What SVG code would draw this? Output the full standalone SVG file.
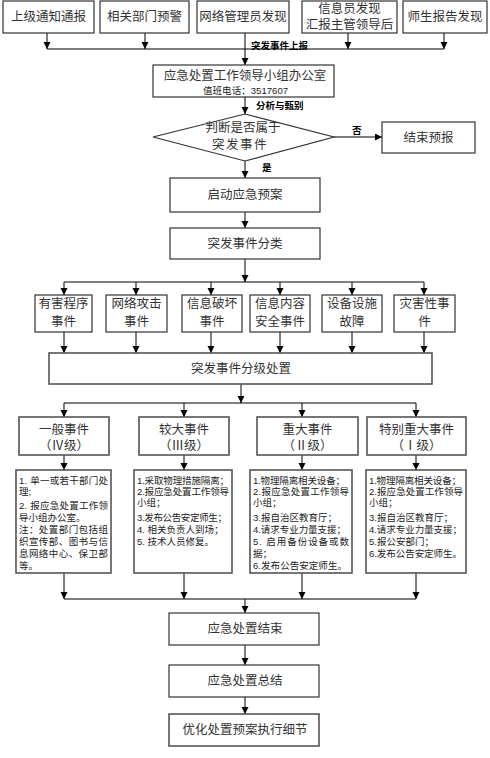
<svg xmlns="http://www.w3.org/2000/svg" width="490" height="758" viewBox="0 0 490 758">
<style>
.b{fill:#fff;stroke:#333;stroke-width:1.2}
.g{fill:#fff;stroke:#555;stroke-width:1.6}
.t{font-family:"Liberation Sans","Noto Sans CJK SC",sans-serif;font-size:12.5px;fill:#333;text-anchor:middle;dominant-baseline:central}
.s{font-family:"Liberation Sans","Noto Sans CJK SC",sans-serif;font-size:9.5px;fill:#222;dominant-baseline:central}
.l{font-family:"Liberation Sans","Noto Sans CJK SC",sans-serif;font-size:9.5px;font-weight:bold;fill:#000;dominant-baseline:central}
.c{fill:none;stroke:#000;stroke-width:1}
</style>
<defs>
<marker id="a" markerUnits="userSpaceOnUse" markerWidth="8" markerHeight="8" refX="7" refY="3.5" orient="auto">
<path d="M0,0 L7,3.5 L0,7 z" fill="#000"/>
</marker>
</defs>
<rect width="490" height="758" fill="#fff"/>

<g id="connectors">
<path class="c" d="M47,33 V49" marker-end="url(#a)"/>
<path class="c" d="M145,33 V49" marker-end="url(#a)"/>
<path class="c" d="M348,33 V49" marker-end="url(#a)"/>
<path class="c" d="M444,33 V49" marker-end="url(#a)"/>
<path class="c" d="M47,49 H444"/>
<path class="c" d="M245,33 V65" marker-end="url(#a)"/>
<text class="l" x="251" y="45">突发事件上报</text>
<path class="c" d="M245,97 V114" marker-end="url(#a)"/>
<text class="l" x="256" y="105">分析与甄别</text>
<path class="c" d="M334,137 H382" marker-end="url(#a)"/>
<text class="l" x="352" y="130">否</text>
<path class="c" d="M245,161 V178" marker-end="url(#a)"/>
<text class="l" x="262" y="167">是</text>
<path class="c" d="M245,212 V228" marker-end="url(#a)"/>
<path class="c" d="M245,259 V282" marker-end="url(#a)"/>
<path class="c" d="M64,282 H424"/>
<path class="c" d="M64,282 V295" marker-end="url(#a)"/>
<path class="c" d="M136,282 V295" marker-end="url(#a)"/>
<path class="c" d="M211,282 V295" marker-end="url(#a)"/>
<path class="c" d="M280,282 V295" marker-end="url(#a)"/>
<path class="c" d="M352,282 V295" marker-end="url(#a)"/>
<path class="c" d="M424,282 V295" marker-end="url(#a)"/>
<path class="c" d="M64,332 V353" marker-end="url(#a)"/>
<path class="c" d="M136,332 V353" marker-end="url(#a)"/>
<path class="c" d="M211,332 V353" marker-end="url(#a)"/>
<path class="c" d="M280,332 V353" marker-end="url(#a)"/>
<path class="c" d="M352,332 V353" marker-end="url(#a)"/>
<path class="c" d="M424,332 V353" marker-end="url(#a)"/>
<path class="c" d="M241,384 V403" marker-end="url(#a)"/>
<path class="c" d="M64,403 H416"/>
<path class="c" d="M64,403 V417" marker-end="url(#a)"/>
<path class="c" d="M184,403 V417" marker-end="url(#a)"/>
<path class="c" d="M302,403 V417" marker-end="url(#a)"/>
<path class="c" d="M416,403 V417" marker-end="url(#a)"/>
<path class="c" d="M64,455 V470" marker-end="url(#a)"/>
<path class="c" d="M184,455 V470" marker-end="url(#a)"/>
<path class="c" d="M302,455 V470" marker-end="url(#a)"/>
<path class="c" d="M416,455 V470" marker-end="url(#a)"/>
<path class="c" d="M64,573 V599" marker-end="url(#a)"/>
<path class="c" d="M184,573 V599" marker-end="url(#a)"/>
<path class="c" d="M302,573 V599" marker-end="url(#a)"/>
<path class="c" d="M416,573 V599" marker-end="url(#a)"/>
<path class="c" d="M64,599 H416"/>
<path class="c" d="M245,599 V613" marker-end="url(#a)"/>
<path class="c" d="M245,645 V665" marker-end="url(#a)"/>
<path class="c" d="M245,697 V714" marker-end="url(#a)"/>
</g>

<g id="src1"><rect class="b" x="3" y="1" width="91" height="32"/><text class="t" x="48.5" y="17">上级通知通报</text></g>
<g id="src2"><rect class="b" x="100" y="1" width="89" height="32"/><text class="t" x="144.5" y="17">相关部门预警</text></g>
<g id="src3"><rect class="b" x="197" y="1" width="92" height="32"/><text class="t" x="243" y="17">网络管理员发现</text></g>
<g id="src4"><rect class="b" x="302" y="1" width="95" height="32"/><text class="t" x="349.5" y="9">信息员发现</text><text class="t" x="349.5" y="25">汇报主管领导后</text></g>
<g id="src5"><rect class="b" x="403" y="1" width="84" height="32"/><text class="t" x="445" y="17">师生报告发现</text></g>

<g id="office"><rect class="b" x="153" y="65" width="181" height="32"/><text class="t" x="245" y="76">应急处置工作领导小组办公室</text><text class="s" x="203" y="90" textLength="85">值班电话：3517607</text></g>

<g id="decision"><path class="b" d="M153,137 L245,114 L334,137 L245,161 Z"/><text class="t" x="243" y="128">判断是否属于</text><text class="t" x="240" y="145" letter-spacing="1.5">突发事件</text></g>

<g id="end"><rect class="b" x="382" y="122" width="93" height="31"/><text class="t" x="428.5" y="138">结束预报</text></g>

<g id="start"><rect class="b" x="170" y="178" width="150" height="34"/><text class="t" x="245" y="195">启动应急预案</text></g>
<g id="classify"><rect class="b" x="170" y="228" width="150" height="31"/><text class="t" x="245" y="244">突发事件分类</text></g>

<g id="cat1"><rect class="b" x="35" y="295" width="57" height="37"/><text class="t" x="63.5" y="304">有害程序</text><text class="t" x="63.5" y="322">事件</text></g>
<g id="cat2"><rect class="b" x="106" y="295" width="61" height="37"/><text class="t" x="136.5" y="304">网络攻击</text><text class="t" x="136.5" y="322">事件</text></g>
<g id="cat3"><rect class="b" x="182" y="295" width="60" height="37"/><text class="t" x="212" y="304">信息破坏</text><text class="t" x="212" y="322">事件</text></g>
<g id="cat4"><rect class="b" x="250" y="295" width="60" height="37"/><text class="t" x="280" y="304">信息内容</text><text class="t" x="280" y="322">安全事件</text></g>
<g id="cat5"><rect class="b" x="322" y="295" width="60" height="37"/><text class="t" x="352" y="304">设备设施</text><text class="t" x="352" y="322">故障</text></g>
<g id="cat6"><rect class="b" x="394" y="295" width="61" height="37"/><text class="t" x="424.5" y="304">灾害性事</text><text class="t" x="424.5" y="322">件</text></g>

<g id="grade"><rect class="g" x="49" y="353" width="383" height="31"/><text class="t" x="241" y="369">突发事件分级处置</text></g>

<g id="lv4"><rect class="g" x="19" y="417" width="90" height="38"/><text class="t" x="64" y="430" font-size="13">一般事件</text><text class="t" x="64" y="446">（Ⅳ级）</text></g>
<g id="lv3"><rect class="g" x="139" y="417" width="90" height="38"/><text class="t" x="184" y="430" font-size="13">较大事件</text><text class="t" x="184" y="446">（Ⅲ级）</text></g>
<g id="lv2"><rect class="g" x="257" y="417" width="101" height="38"/><text class="t" x="307.5" y="430" font-size="13">重大事件</text><text class="t" x="307.5" y="446">（Ⅱ级）</text></g>
<g id="lv1"><rect class="g" x="367" y="417" width="99" height="38"/><text class="t" x="416.5" y="430" font-size="13">特别重大事件</text><text class="t" x="416.5" y="446">（Ⅰ级）</text></g>

<g id="d4"><rect class="g" x="16" y="470" width="95" height="103"/>
<text class="s" x="19" y="480" textLength="89">1. 单一或若干部门处</text>
<text class="s" x="19" y="491">理;</text>
<text class="s" x="19" y="505" textLength="89">2. 报应急处置工作领</text>
<text class="s" x="19" y="517">导小组办公室。</text>
<text class="s" x="19" y="529" textLength="89">注：处置部门包括组</text>
<text class="s" x="19" y="541" textLength="89">织宣传部、图书与信</text>
<text class="s" x="19" y="553" textLength="89">息网络中心、保卫部</text>
<text class="s" x="19" y="565">等。</text>
</g>
<g id="d3"><rect class="g" x="134" y="470" width="98" height="103"/>
<text class="s" x="137" y="480" textLength="92">1.采取物理措施隔离；</text>
<text class="s" x="137" y="491" textLength="92">2.报应急处置工作领导</text>
<text class="s" x="137" y="502">小组；</text>
<text class="s" x="137" y="517" textLength="90">3.发布公告安定师生；</text>
<text class="s" x="137" y="529">4. 相关负责人到场；</text>
<text class="s" x="137" y="541">5. 技术人员修复。</text>
</g>
<g id="d2"><rect class="g" x="250" y="470" width="102" height="103"/>
<text class="s" x="253" y="480" textLength="92">1.物理隔离相关设备；</text>
<text class="s" x="253" y="491" textLength="96">2.报应急处置工作领导</text>
<text class="s" x="253" y="502">小组；</text>
<text class="s" x="253" y="517">3.报自治区教育厅；</text>
<text class="s" x="253" y="529" textLength="93">4.请求专业力量支援；</text>
<text class="s" x="253" y="541" textLength="96">5. 启用备份设备或数</text>
<text class="s" x="253" y="553">据；</text>
<text class="s" x="253" y="565" textLength="94">6.发布公告安定师生。</text>
</g>
<g id="d1"><rect class="g" x="366" y="470" width="100" height="103"/>
<text class="s" x="369" y="480" textLength="92">1.物理隔离相关设备；</text>
<text class="s" x="369" y="491" textLength="94">2.报应急处置工作领导</text>
<text class="s" x="369" y="502">小组；</text>
<text class="s" x="369" y="517">3.报自治区教育厅；</text>
<text class="s" x="369" y="529" textLength="93">4.请求专业力量支援；</text>
<text class="s" x="369" y="541">5.报公安部门；</text>
<text class="s" x="369" y="553" textLength="93">6.发布公告安定师生。</text>
</g>

<g id="finish"><rect class="b" x="169" y="613" width="150" height="32"/><text class="t" x="245" y="629">应急处置结束</text></g>
<g id="summary"><rect class="b" x="169" y="665" width="150" height="32"/><text class="t" x="245" y="681">应急处置总结</text></g>
<g id="optimize"><rect class="g" x="169" y="714" width="150" height="32"/><text class="t" x="245" y="730">优化处置预案执行细节</text></g>
</svg>
